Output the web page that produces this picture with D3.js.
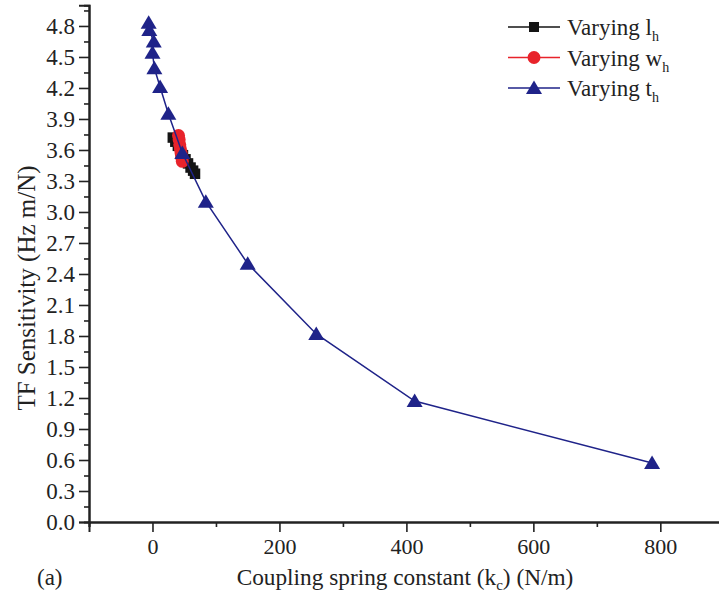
<!DOCTYPE html>
<html>
<head>
<meta charset="utf-8">
<script src="https://cdn.jsdelivr.net/npm/d3@7"></script>
<style>
  body { margin: 0; background: #fff; }
  text { font-family: "Liberation Serif", "Times New Roman", serif; fill: #222; }
</style>
</head>
<body>
<div id="chart"></div>
<script>
// Data
const lhX = [32, 36, 40, 44, 48, 52, 56, 60, 64, 67];
const lhY = [3.72, 3.68, 3.64, 3.59, 3.55, 3.51, 3.47, 3.43, 3.40, 3.37];
const whX = [41, 42, 43, 44, 45, 46, 47];
const whY = [3.74, 3.70, 3.65, 3.61, 3.57, 3.53, 3.49];
const thX = [-6, -5, 2, 0, 3, 12, 25, 47, 84, 150, 258, 413, 787];
const thY = [4.83, 4.76, 4.65, 4.54, 4.39, 4.21, 3.95, 3.57, 3.10, 2.50, 1.82, 1.17, 0.57];

const xMajor = [0, 200, 400, 600, 800];
const xMinor = [-100, 100, 300, 500, 700];
const yMajor = d3.range(0, 17).map(i => +(i * 0.3).toFixed(1));
const yMinor = d3.range(0, 17).map(i => +(i * 0.3 + 0.15).toFixed(2));

const legendLabels = [["Varying l", "h"], ["Varying w", "h"], ["Varying t", "h"]];

const width = 719, height = 596;
const margin = { left: 89, top: 5, bottom: 74 };

const x = d3.scaleLinear().domain([-100, 900]).range([margin.left, 723.8]);
const y = d3.scaleLinear().domain([0, 5.0]).range([height - margin.bottom, margin.top + 0.3]);

const svg = d3.select("#chart").append("svg")
    .attr("width", width)
    .attr("height", height);

const axisColor = "#222";

// --- Axes ---
const xAxis = svg.append("g").attr("transform", `translate(0,${y(0)})`);
xAxis.call(d3.axisBottom(x).tickValues(xMajor).tickSize(10).tickPadding(6).tickFormat(d3.format("d")));
xAxis.append("g").call(d3.axisBottom(x).tickValues(xMinor).tickSize(5).tickFormat(""));
xAxis.selectAll(".tick text").style("font-size", "22px");

const yAxis = svg.append("g").attr("transform", `translate(${x(-100)},0)`);
yAxis.call(d3.axisLeft(y).tickValues(yMajor).tickSize(10).tickPadding(4).tickFormat(d3.format(".1f")));
yAxis.append("g").call(d3.axisLeft(y).tickValues(yMinor).tickSize(5).tickFormat(""));
yAxis.selectAll(".tick text").style("font-size", "23px");

svg.selectAll(".domain").attr("stroke", axisColor).attr("stroke-width", 2);
svg.selectAll(".tick line").attr("stroke", axisColor).attr("stroke-width", 1.6);
svg.selectAll(".tick text")
    .style("font-family", "'Liberation Serif', serif")
    .attr("fill", "#222");

// --- Axis titles ---
const xTitle = svg.append("text")
    .attr("x", 405)
    .attr("y", 585)
    .attr("text-anchor", "middle")
    .style("font-size", "23.3px");
xTitle.append("tspan").text("Coupling spring constant (k");
xTitle.append("tspan").text("c").attr("dy", 5).style("font-size", "15px");
xTitle.append("tspan").text(") (N/m)").attr("dy", -5);

svg.append("text")
    .attr("x", 37)
    .attr("y", 585)
    .style("font-size", "23px")
    .text("(a)");

svg.append("text")
    .attr("transform", `translate(35,288) rotate(-90)`)
    .attr("text-anchor", "middle")
    .style("font-size", "25px")
    .text("TF Sensitivity (Hz m/N)");

// --- Series ---
const colors = { lh: "#141414", wh: "#e8232b", th: "#1f2389" };
const line = d3.line().x(d => x(d[0])).y(d => y(d[1]));

const lhData = lhX.map((v, i) => [v, lhY[i]]);
const whData = whX.map((v, i) => [v, whY[i]]);
const thData = thX.map((v, i) => [v, thY[i]]);

const plot = svg.append("g");

plot.append("path").datum(lhData).attr("d", line)
    .attr("fill", "none").attr("stroke", colors.lh).attr("stroke-width", 1.5);
plot.append("g").selectAll("path").data(lhData).join("path")
    .attr("d", d3.symbol(d3.symbolSquare, 110))
    .attr("transform", d => `translate(${x(d[0])},${y(d[1])})`)
    .attr("fill", colors.lh);

plot.append("path").datum(whData).attr("d", line)
    .attr("fill", "none").attr("stroke", colors.wh).attr("stroke-width", 1.5);
plot.append("g").selectAll("circle").data(whData).join("circle")
    .attr("cx", d => x(d[0]))
    .attr("cy", d => y(d[1]))
    .attr("r", 6.5)
    .attr("fill", colors.wh);

plot.append("path").datum(thData).attr("d", line)
    .attr("fill", "none").attr("stroke", colors.th).attr("stroke-width", 1.5);

const tri = "M0,-7.5L8,6L-8,6Z";
plot.append("g").selectAll("path").data(thData).join("path")
    .attr("d", tri)
    .attr("transform", d => `translate(${x(d[0])},${y(d[1])})`)
    .attr("fill", colors.th);

// --- Legend ---
const legendMarkers = [
    g => g.append("path").attr("d", d3.symbol(d3.symbolSquare, 100)).attr("fill", colors.lh),
    g => g.append("circle").attr("r", 6.5).attr("fill", colors.wh),
    g => g.append("path").attr("d", tri).attr("fill", colors.th)
];
const legendColors = [colors.lh, colors.wh, colors.th];

const legend = svg.append("g");
legendLabels.forEach((lab, i) => {
    const row = legend.append("g").attr("transform", `translate(534,${27 + i * 30.5})`);
    row.append("line").attr("x1", -26).attr("x2", 26)
        .attr("stroke", legendColors[i]).attr("stroke-width", 1.5);
    legendMarkers[i](row);
    const t = row.append("text").attr("x", 33).attr("y", 8).style("font-size", "23px");
    t.append("tspan").text(lab[0]);
    t.append("tspan").text(lab[1]).attr("dy", 6).style("font-size", "14px");
});
</script>
</body>
</html>
